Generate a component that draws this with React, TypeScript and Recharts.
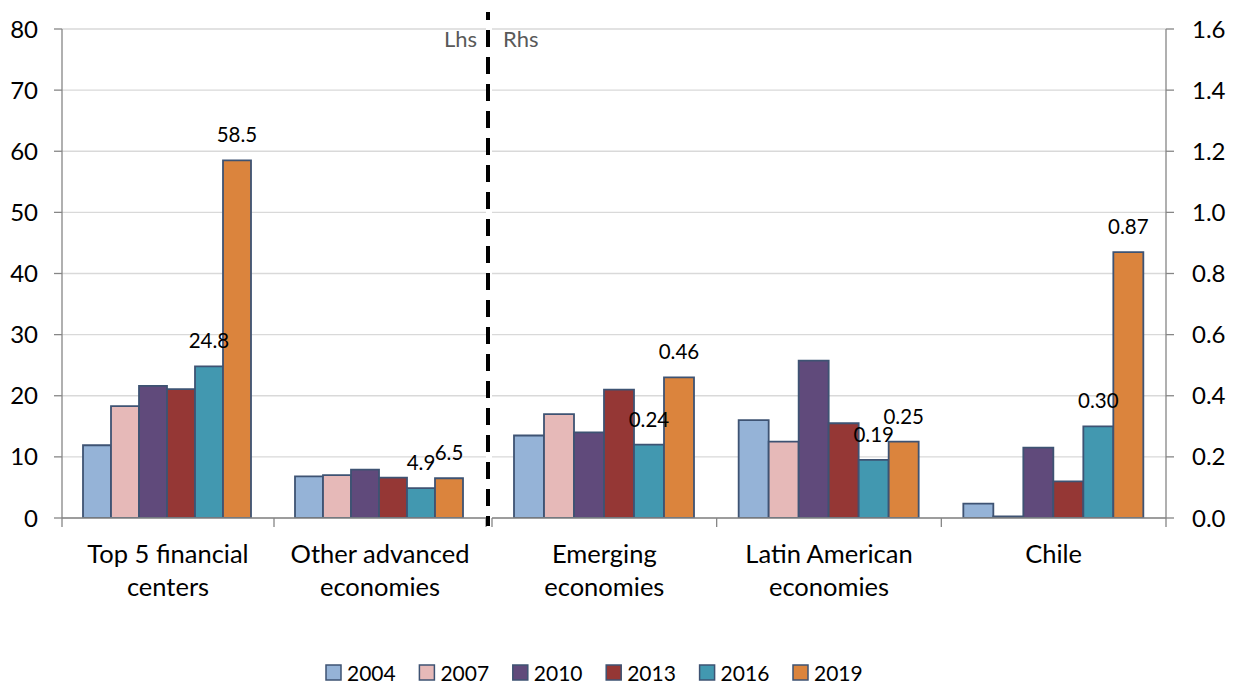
import React from "react";
import { BarChart, Bar, XAxis, YAxis, CartesianGrid, LabelList } from "recharts";

// ---------- data ----------
const categories = [
  "Top 5 financial\ncenters",
  "Other advanced\neconomies",
  "Emerging\neconomies",
  "Latin American\neconomies",
  "Chile",
];
const leftCount = 2; // first categories use the left axis (Lhs), the rest the right axis (Rhs)
const years = ["2004", "2007", "2010", "2013", "2016", "2019"];
const v2004 = [11.9, 6.8, 0.27, 0.32, 0.047];
const v2007 = [18.3, 7.0, 0.34, 0.25, 0.005];
const v2010 = [21.6, 7.9, 0.28, 0.515, 0.23];
const v2013 = [21.1, 6.6, 0.42, 0.31, 0.12];
const v2016 = [24.8, 4.9, 0.24, 0.19, 0.3];
const v2019 = [58.5, 6.5, 0.46, 0.25, 0.87];
const seriesValues = [v2004, v2007, v2010, v2013, v2016, v2019];
const labelledYears = ["2016", "2019"];
const leftTicks = [0, 10, 20, 30, 40, 50, 60, 70, 80];
const rightTicks = [0, 0.2, 0.4, 0.6, 0.8, 1.0, 1.2, 1.4, 1.6];

// ---------- styles ----------
const COLORS = ["#95B3D7", "#E6B9B8", "#604A7B", "#953735", "#4298B0", "#DB843D"];
const BAR_STROKE = "#3E5373";
const AXIS = "#868686";
const GRID = "#D9D9D9";
const FONT = "Lato, 'Noto Sans', sans-serif";

const W = 1238;
const H = 688;
const PLOT_TOP = 29;
const PLOT_BOTTOM = 518;
const LEFT_PLOT_L = 62;
const LEFT_PLOT_R = 486;
const RIGHT_PLOT_L = 492;
const RIGHT_PLOT_R = 1166;
const X_AXIS_H = 100;

const buildRows = (cats: string[], offset: number) =>
  cats.map((name, i) => {
    const row: Record<string, any> = { name };
    years.forEach((y, s) => {
      row["y" + y] = seriesValues[s][offset + i];
    });
    return row;
  });

const leftData = buildRows(categories.slice(0, leftCount), 0);
const rightData = buildRows(categories.slice(leftCount), leftCount);

const makeTick = (band: number, count: number) => (props: any) => {
  const { x, payload, index } = props;
  const lines = String(payload.value).split("\n");
  return (
    <g>
      <line x1={x - band / 2} x2={x - band / 2} y1={PLOT_BOTTOM} y2={PLOT_BOTTOM + 9} stroke={AXIS} strokeWidth={1.3} />
      {index === count - 1 && (
        <line x1={x + band / 2} x2={x + band / 2} y1={PLOT_BOTTOM} y2={PLOT_BOTTOM + 9} stroke={AXIS} strokeWidth={1.3} />
      )}
      <text x={x} y={563} textAnchor="middle" fontFamily={FONT} fontSize={25.5} fill="#000">
        {lines.map((l, i) => (
          <tspan key={i} x={x} dy={i === 0 ? 0 : 33}>
            {l}
          </tspan>
        ))}
      </text>
    </g>
  );
};

const tickStyle = { fontFamily: FONT, fontSize: 24, fill: "#000" };

function SideChart(props: {
  data: any[];
  left: number;
  width: number;
  margin: any;
  side: "left" | "right";
  band: number;
  gap: number;
}) {
  const { data, left, width, margin, side, band, gap } = props;
  const isLeft = side === "left";
  return (
    <div style={{ position: "absolute", left, top: 0 }}>
      <BarChart
        width={width}
        height={H}
        data={data}
        margin={margin}
        barGap={0}
        barCategoryGap={gap}
      >
        <CartesianGrid vertical={false} stroke={GRID} strokeWidth={1.3} />
        <XAxis
          dataKey="name"
          type="category"
          height={X_AXIS_H}
          interval={0}
          tickLine={false}
          axisLine={{ stroke: AXIS, strokeWidth: 1.3 }}
          tick={makeTick(band, data.length)}
        />
        <YAxis
          orientation={side}
          width={isLeft ? LEFT_PLOT_L : W - RIGHT_PLOT_R}
          domain={isLeft ? [0, 80] : [0, 1.6]}
          ticks={isLeft ? leftTicks : rightTicks}
          tickFormatter={(v: number) => (isLeft ? String(v) : v.toFixed(1))}
          allowDataOverflow
          tickSize={8}
          tickMargin={isLeft ? 16 : 18}
          axisLine={{ stroke: AXIS, strokeWidth: 1.3 }}
          tickLine={{ stroke: AXIS, strokeWidth: 1.3 }}
          tick={tickStyle}
        />
        {years.map((y, s) => (
          <Bar
            key={y}
            dataKey={"y" + y}
            fill={COLORS[s]}
            stroke={BAR_STROKE}
            strokeWidth={1.8}
            isAnimationActive={false}
          >
            {labelledYears.includes(y) && (
              <LabelList
                dataKey={"y" + y}
                position="top"
                offset={18}
                fill="#000"
                fontFamily={FONT}
                fontSize={20.5}
                formatter={(v: any) => Number(v).toFixed(isLeft ? 1 : 2)}
              />
            )}
          </Bar>
        ))}
      </BarChart>
    </div>
  );
}

export default function App() {
  const leftWidth = LEFT_PLOT_R + 14;
  const rightLeft = RIGHT_PLOT_L - 14;
  const rightWidth = W - rightLeft;
  return (
    <div style={{ position: "absolute", left: 0, top: 0, width: W, height: H, background: "#fff", overflow: "hidden" }}>
      <SideChart
        data={leftData}
        left={0}
        width={leftWidth}
        margin={{ top: PLOT_TOP, right: 14, left: 0, bottom: H - PLOT_BOTTOM - X_AXIS_H }}
        side="left"
        band={(LEFT_PLOT_R - LEFT_PLOT_L) / leftData.length}
        gap={21}
      />
      <SideChart
        data={rightData}
        left={rightLeft}
        width={rightWidth}
        margin={{ top: PLOT_TOP, right: 0, left: 14, bottom: H - PLOT_BOTTOM - X_AXIS_H }}
        side="right"
        band={(RIGHT_PLOT_R - RIGHT_PLOT_L) / rightData.length}
        gap={22}
      />
      <svg width={W} height={H} style={{ position: "absolute", left: 0, top: 0, pointerEvents: "none" }}>
        <line x1={488} x2={488} y1={12} y2={526} stroke="#000" strokeWidth={4} strokeDasharray="17 10" strokeDashoffset={9} />
        <text x={477} y={47} textAnchor="end" fontFamily={FONT} fontSize={22} fill="#595959">
          Lhs
        </text>
        <text x={503} y={47} textAnchor="start" fontFamily={FONT} fontSize={22} fill="#595959">
          Rhs
        </text>
        {years.map((y, i) => {
          const x0 = 326 + i * 93.4;
          return (
            <g key={y}>
              <rect x={x0} y={665} width={15} height={15} fill={COLORS[i]} stroke={BAR_STROKE} strokeWidth={1.5} />
              <text x={x0 + 21} y={681} fontFamily={FONT} fontSize={21} fill="#000">
                {y}
              </text>
            </g>
          );
        })}
      </svg>
    </div>
  );
}
